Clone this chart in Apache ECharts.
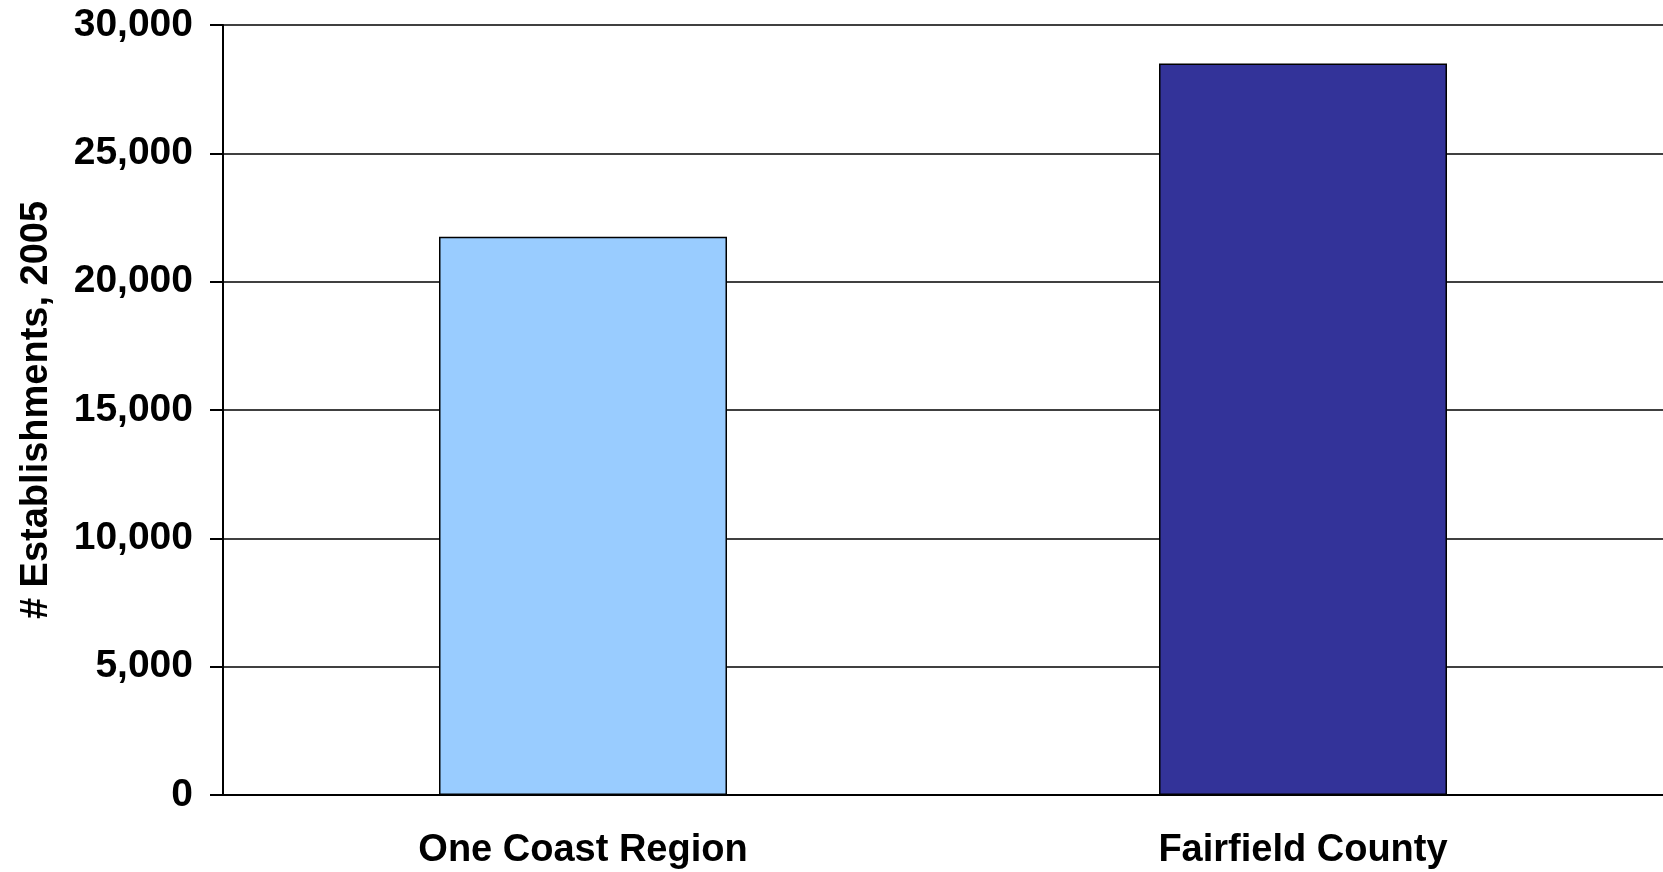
<!DOCTYPE html>
<html>
<head>
<meta charset="utf-8">
<script src="https://cdn.jsdelivr.net/npm/echarts@6/dist/echarts.min.js"></script>
<style>html,body{margin:0;padding:0;background:#fff;overflow:hidden}#c{width:1663px;height:872px}</style>
</head>
<body>
<div id="c"></div>
<script>
const categories = ["One Coast Region", "Fairfield County"];
const values = [21750, 28500];
const barColors = ["#99CCFF", "#333399"];
const yTicks = [0, 5000, 10000, 15000, 20000, 25000, 30000];
const yName = "# Establishments, 2005";

const chart = echarts.init(document.getElementById('c'));
const font = '"Liberation Sans", Arial, sans-serif';
chart.setOption({
  animation: false,
  grid: {left: 223, right: -7, top: 25, bottom: 77, containLabel: false},
  xAxis: {
    type: 'category',
    data: categories,
    axisLine: {show: true, lineStyle: {color: '#000', width: 2}},
    axisTick: {show: false},
    axisLabel: {color: '#000', fontFamily: font, fontWeight: 'bold', fontSize: 38, margin: 37}
  },
  yAxis: {
    type: 'value',
    min: yTicks[0],
    max: yTicks[yTicks.length - 1],
    interval: yTicks[1] - yTicks[0],
    name: yName,
    nameLocation: 'middle',
    nameGap: 167,
    nameRotate: 90,
    nameTextStyle: {color: '#000', fontFamily: font, fontWeight: 'bold', fontSize: 38},
    axisLine: {show: true, lineStyle: {color: '#000', width: 2}},
    axisTick: {show: true, length: 13, inside: false, lineStyle: {color: '#000', width: 2}},
    splitLine: {show: true, lineStyle: {color: '#000', width: 1.5}},
    axisLabel: {
      color: '#000', fontFamily: font, fontWeight: 'bold', fontSize: 39, margin: 30,
      formatter: v => v.toLocaleString('en-US')
    }
  },
  series: [{
    type: 'bar',
    barWidth: '40%',
    data: values.map((v, i) => ({value: v, itemStyle: {color: barColors[i], borderColor: '#000', borderWidth: 1.5}}))
  }]
});
</script>
</body>
</html>
